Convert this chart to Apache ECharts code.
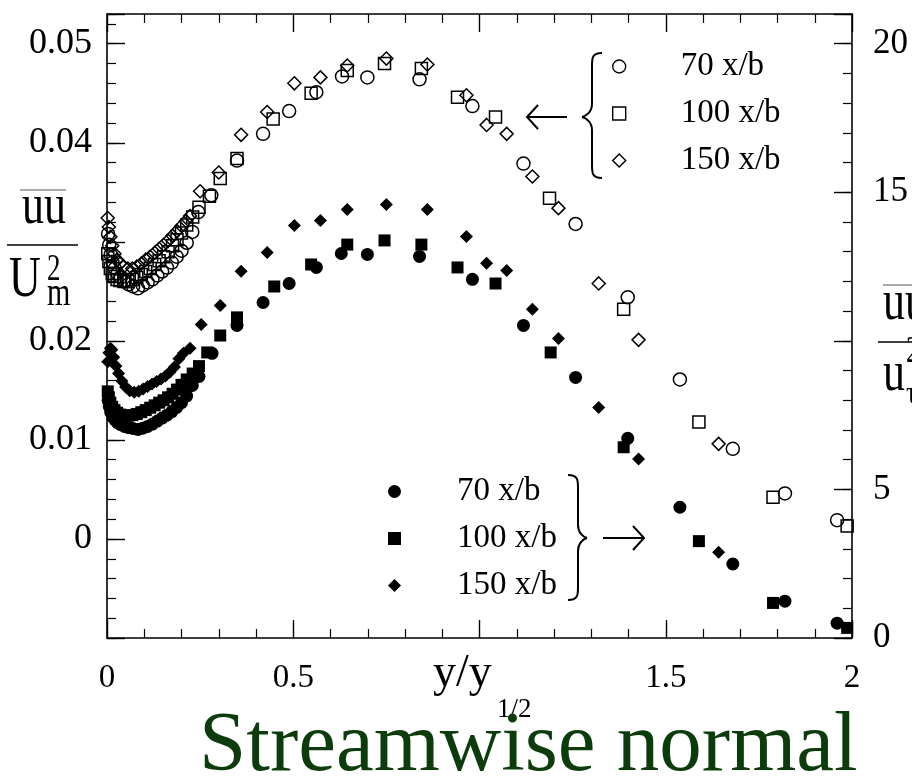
<!DOCTYPE html>
<html>
<head>
<meta charset="utf-8">
<script src="https://cdn.jsdelivr.net/npm/echarts@6/dist/echarts.min.js"></script>
<style>
  html, body { margin: 0; padding: 0; background: #fff; }
  #chart { width: 912px; height: 780px; }
</style>
</head>
<body>
<div id="chart"></div>
<script>
// Streamwise normal stress profiles across the jet, three downstream stations.
const stations = ['70 x/b', '100 x/b', '150 x/b'];

// Outer scaling (left axis): uu / Um^2, open symbols
const open70x = [0.003,0.006,0.010,0.015,0.021,0.028,0.037,0.047,0.058,0.070,0.083,0.096,0.109,0.122,0.135,0.148,0.161,0.174,0.187,0.200,0.214,0.229,0.245,0.280,0.349,0.419,0.489,0.562,0.631,0.699,0.839,0.981,1.118,1.258,1.398,1.538,1.680,1.820,1.960];
const open70y = [0.0308,0.0297,0.0287,0.0279,0.0273,0.0268,0.0264,0.0260,0.0257,0.0255,0.0253,0.0256,0.0259,0.0262,0.0266,0.0270,0.0274,0.0279,0.0285,0.0291,0.0299,0.0310,0.0330,0.0347,0.0382,0.0409,0.0432,0.0451,0.0467,0.0466,0.0464,0.0437,0.0379,0.0318,0.0244,0.0161,0.0091,0.0046,0.0019];

const open100x = [0.002,0.005,0.009,0.014,0.020,0.027,0.035,0.045,0.056,0.068,0.080,0.092,0.104,0.116,0.128,0.140,0.152,0.164,0.176,0.188,0.200,0.214,0.230,0.247,0.275,0.304,0.349,0.446,0.548,0.645,0.745,0.844,0.941,1.043,1.188,1.387,1.589,1.788,1.987];
const open100y = [0.0288,0.0280,0.0273,0.0268,0.0265,0.0262,0.0261,0.0260,0.0260,0.0262,0.0264,0.0267,0.0270,0.0273,0.0277,0.0281,0.0285,0.0290,0.0296,0.0302,0.0309,0.0317,0.0325,0.0335,0.0346,0.0364,0.0384,0.0424,0.0450,0.0473,0.0480,0.0475,0.0446,0.0426,0.0344,0.0232,0.0118,0.0042,0.0013];

const open150x = [0.002,0.005,0.009,0.014,0.020,0.027,0.035,0.045,0.056,0.068,0.080,0.092,0.104,0.116,0.128,0.140,0.152,0.164,0.176,0.188,0.200,0.212,0.223,0.250,0.300,0.360,0.430,0.503,0.573,0.645,0.750,0.860,0.965,1.019,1.073,1.142,1.212,1.320,1.427,1.642];
const open150y = [0.0324,0.0315,0.0305,0.0296,0.0288,0.0282,0.0278,0.0275,0.0273,0.0273,0.0275,0.0278,0.0282,0.0285,0.0289,0.0293,0.0297,0.0301,0.0306,0.0311,0.0316,0.0321,0.0326,0.0351,0.0370,0.0408,0.0431,0.0460,0.0466,0.0478,0.0485,0.0479,0.0448,0.0418,0.0409,0.0366,0.0334,0.0258,0.0201,0.0096];

// Inner scaling (right axis): filled symbols
const fill70x = [0.003,0.006,0.010,0.015,0.021,0.028,0.037,0.047,0.058,0.070,0.083,0.096,0.109,0.122,0.135,0.148,0.161,0.174,0.187,0.200,0.214,0.229,0.247,0.282,0.349,0.419,0.489,0.562,0.629,0.699,0.839,0.981,1.118,1.258,1.398,1.538,1.680,1.820,1.960];
const fill70y = [8.0,7.8,7.6,7.45,7.35,7.25,7.18,7.12,7.08,7.05,7.02,7.06,7.12,7.2,7.3,7.4,7.5,7.62,7.76,7.92,8.15,8.5,8.8,9.58,10.52,11.29,11.93,12.47,12.94,12.91,12.84,12.07,10.52,8.77,6.72,4.40,2.49,1.24,0.50];

const fill100x = [0.002,0.005,0.009,0.014,0.020,0.027,0.035,0.045,0.056,0.068,0.080,0.092,0.104,0.116,0.128,0.140,0.152,0.164,0.176,0.188,0.200,0.214,0.230,0.247,0.269,0.304,0.349,0.449,0.548,0.645,0.745,0.844,0.941,1.043,1.191,1.387,1.589,1.788,1.987];
const fill100y = [8.3,8.1,7.92,7.78,7.67,7.58,7.52,7.49,7.48,7.5,7.54,7.6,7.67,7.75,7.83,7.92,8.0,8.1,8.22,8.36,8.52,8.7,8.9,9.15,9.61,10.18,10.79,11.83,12.57,13.24,13.38,13.24,12.47,11.93,9.61,6.42,3.26,1.18,0.34];

const fill150x = [0.002,0.005,0.009,0.013,0.018,0.024,0.031,0.040,0.050,0.061,0.073,0.085,0.097,0.109,0.121,0.133,0.145,0.157,0.169,0.181,0.193,0.205,0.223,0.253,0.304,0.360,0.430,0.503,0.573,0.645,0.750,0.860,0.965,1.019,1.073,1.142,1.212,1.320,1.427,1.642];
const fill150y = [9.3,9.6,9.75,9.7,9.45,9.15,8.9,8.65,8.45,8.32,8.27,8.3,8.38,8.46,8.55,8.63,8.72,8.82,8.95,9.12,9.4,9.58,9.75,10.55,11.19,12.34,12.97,13.88,14.05,14.42,14.59,14.42,13.51,12.61,12.37,11.06,10.08,7.76,6.02,2.89];

// Tick labels
const xTickValues = [0, 0.5, 1, 1.5, 2];
const xTickLabels = ['0', '0.5', '', '1.5', '2'];
const yLeftTickValues = [0, 0.01, 0.02, 0.03, 0.04, 0.05];
const yLeftTickLabels = ['0', '0.01', '0.02', '', '0.04', '0.05'];
const yRightTickValues = [0, 5, 10, 15, 20];
const yRightTickLabels = ['0', '5', '', '15', '20'];

const FONT = "'Liberation Serif','Times New Roman',serif";
const INK = '#000';

function pairs(xs, ys) { return xs.map((x, i) => [x, ys[i]]); }
function labelFrom(values, labels) {
  return function (v) {
    for (let i = 0; i < values.length; i++) {
      if (Math.abs(v - values[i]) < 1e-9) return labels[i];
    }
    return '';
  };
}

const symbols = ['circle', 'rect', 'diamond'];
const openSizes = [13, 12, 13];
const fillSizes = [13, 12, 13];
const openData = [pairs(open70x, open70y), pairs(open100x, open100y), pairs(open150x, open150y)];
const fillData = [pairs(fill70x, fill70y), pairs(fill100x, fill100y), pairs(fill150x, fill150y)];

const openNames = stations.map(s => 'outer ' + s);
const fillNames = stations.map(s => 'inner ' + s);

const series = [];
stations.forEach((s, i) => {
  series.push({
    name: openNames[i], type: 'scatter', xAxisIndex: 0, yAxisIndex: 0,
    symbol: symbols[i], symbolSize: openSizes[i],
    itemStyle: { color: 'rgba(0,0,0,0)', borderColor: INK, borderWidth: 1.5, opacity: 1 },
    emphasis: { disabled: true },
    data: openData[i], z: 3
  });
});
stations.forEach((s, i) => {
  series.push({
    name: fillNames[i], type: 'scatter', xAxisIndex: 0, yAxisIndex: 2,
    symbol: symbols[i], symbolSize: fillSizes[i],
    itemStyle: { color: INK, borderWidth: 0, opacity: 1 },
    emphasis: { disabled: true },
    data: fillData[i], z: 2
  });
});

const axisLine = { show: true, onZero: false, lineStyle: { color: INK, width: 1.6 } };
const noLine = { show: false, onZero: false };
const majorTick = { show: true, inside: true, length: 18, lineStyle: { color: INK, width: 1.4 } };
const minorTickAxis = { show: true, inside: true, length: 9, lineStyle: { color: INK, width: 1.2 } };
const tickLabelStyle = { fontFamily: FONT, color: INK };

const stripPrefix = n => n.replace(/^\S+\s/, '');

function txt(x, y, text, size, opts) {
  opts = opts || {};
  return {
    type: 'text', x: x, y: y, scaleY: opts.sy || 1, silent: true, z: 10,
    style: {
      text: text, x: 0, y: 0, fontSize: size, fontFamily: FONT,
      fill: opts.color || INK, align: opts.align || 'left', verticalAlign: 'middle'
    }
  };
}
function seg(x1, y1, x2, y2, w, color) {
  return { type: 'line', silent: true, z: 10,
    shape: { x1: x1, y1: y1, x2: x2, y2: y2 },
    style: { stroke: color || INK, lineWidth: w || 1.5 } };
}
function curve(x1, y1, c1x, c1y, c2x, c2y, x2, y2, w) {
  return { type: 'bezierCurve', silent: true, z: 10,
    shape: { x1: x1, y1: y1, cpx1: c1x, cpy1: c1y, cpx2: c2x, cpy2: c2y, x2: x2, y2: y2 },
    style: { stroke: INK, fill: null, lineWidth: w || 2 } };
}
function poly(points, w) {
  return { type: 'polyline', silent: true, z: 10, shape: { points: points },
    style: { stroke: INK, fill: null, lineWidth: w || 2 } };
}
// curly brace: ends at ex, spine at sx, tip at (tx, ty), spanning yTop..yBot
function brace(ex, sx, tx, yTop, ty, yBot) {
  return [
    curve(ex, yTop, sx, yTop, sx, yTop + 5, sx, yTop + 13),
    seg(sx, yTop + 13, sx, ty - 13, 2),
    curve(sx, ty - 13, sx, ty - 5, tx + (sx - tx) * 0.4, ty - 1, tx, ty),
    curve(tx, ty, tx + (sx - tx) * 0.4, ty + 1, sx, ty + 5, sx, ty + 13),
    seg(sx, ty + 13, sx, yBot - 13, 2),
    curve(sx, yBot - 13, sx, yBot - 5, sx, yBot, ex, yBot)
  ];
}

function legendBlock(names, left, top, padLeft, border) {
  return {
    data: names, orient: 'vertical', left: left, top: top, padding: 0,
    itemWidth: 13, itemHeight: 13, itemGap: 14, selectedMode: false,
    formatter: stripPrefix,
    textStyle: { fontSize: 33, fontFamily: FONT, color: INK, padding: [0, 0, 0, padLeft] },
    itemStyle: { borderWidth: border, borderColor: INK, opacity: 1 }
  };
}

const option = {
  animation: false,
  backgroundColor: '#fff',
  grid: { left: 107, right: 60, top: 14, bottom: 142, containLabel: false },
  xAxis: [
    {
      type: 'value', position: 'bottom', min: 0, max: 2, interval: 0.5,
      axisLine: axisLine, axisTick: majorTick,
      minorTick: { show: true, splitNumber: 5, length: 9, lineStyle: { color: INK, width: 1.2 } },
      axisLabel: Object.assign({ fontSize: 33, margin: 24, formatter: labelFrom(xTickValues, xTickLabels) }, tickLabelStyle),
      splitLine: { show: false }, minorSplitLine: { show: false }
    },
    {
      type: 'value', position: 'top', min: 0, max: 2, interval: 0.5,
      axisLine: axisLine, axisTick: majorTick,
      minorTick: { show: true, splitNumber: 5, length: 9, lineStyle: { color: INK, width: 1.2 } },
      axisLabel: { show: false }, splitLine: { show: false }
    }
  ],
  yAxis: [
    {
      type: 'value', position: 'left', min: -0.01, max: 0.053, interval: 0.01,
      axisLine: axisLine, axisTick: majorTick,
      axisLabel: Object.assign({ fontSize: 36, margin: 15, formatter: labelFrom(yLeftTickValues, yLeftTickLabels) }, tickLabelStyle),
      splitLine: { show: false }
    },
    {
      type: 'value', position: 'left', min: -0.01, max: 0.053, interval: 0.002,
      axisLine: noLine, axisTick: minorTickAxis,
      axisLabel: { show: false }, splitLine: { show: false }
    },
    {
      type: 'value', position: 'right', min: 0, max: 21, interval: 5,
      axisLine: axisLine, axisTick: majorTick,
      axisLabel: Object.assign({ fontSize: 35, margin: 21, formatter: labelFrom(yRightTickValues, yRightTickLabels) }, tickLabelStyle),
      splitLine: { show: false }
    },
    {
      type: 'value', position: 'right', min: 0, max: 21, interval: 1,
      axisLine: noLine, axisTick: minorTickAxis,
      axisLabel: { show: false }, splitLine: { show: false }
    }
  ],
  legend: [
    legendBlock(openNames, 612, 50, 50, 1.4),
    legendBlock(fillNames, 388, 475, 51, 0)
  ],
  series: series,
  graphic: [].concat(
    [
      // left axis name: uu / Um^2
      seg(20, 190, 66, 190, 1, '#555'),
      txt(44, 208, 'uu', 44, { align: 'center', sy: 1.3 }),
      seg(7, 245, 78, 245, 1.5),
      txt(9, 281, 'U', 44, { sy: 1.3 }),
      txt(47, 270, '2', 27, { sy: 1.4 }),
      txt(47, 295, 'm', 30, { sy: 1.3 }),
      // right axis name: uu / u_tau^2
      seg(883, 285, 915, 285, 1, '#555'),
      txt(883, 304, 'uu', 44, { sy: 1.3 }),
      seg(878, 342, 915, 342, 1.5),
      txt(883, 375, 'u', 44, { sy: 1.3 }),
      txt(906, 352, '2', 27, { sy: 1.4 }),
      txt(906, 394, 'τ', 27, { sy: 1.2 }),
      // x axis name: y / y_1/2
      txt(433, 674, 'y/y', 46),
      txt(497, 710, '1/2', 27),
      // arrow for the outer-scaled group
      seg(527, 117, 567, 117, 2),
      poly([[538, 105], [527, 117], [538, 129]], 2),
      // arrow for the inner-scaled group
      seg(603, 538, 644, 538, 2),
      poly([[633, 526], [644, 538], [633, 550]], 2),
      // caption
      txt(199, 748, 'Streamwise normal', 85, { color: '#0c3c0c' })
    ],
    brace(602, 592, 582, 53, 117, 178),
    brace(568, 578, 587, 475, 538, 600)
  )
};

const chart = echarts.init(document.getElementById('chart'), null, { renderer: 'canvas' });
chart.setOption(option);
</script>
</body>
</html>
